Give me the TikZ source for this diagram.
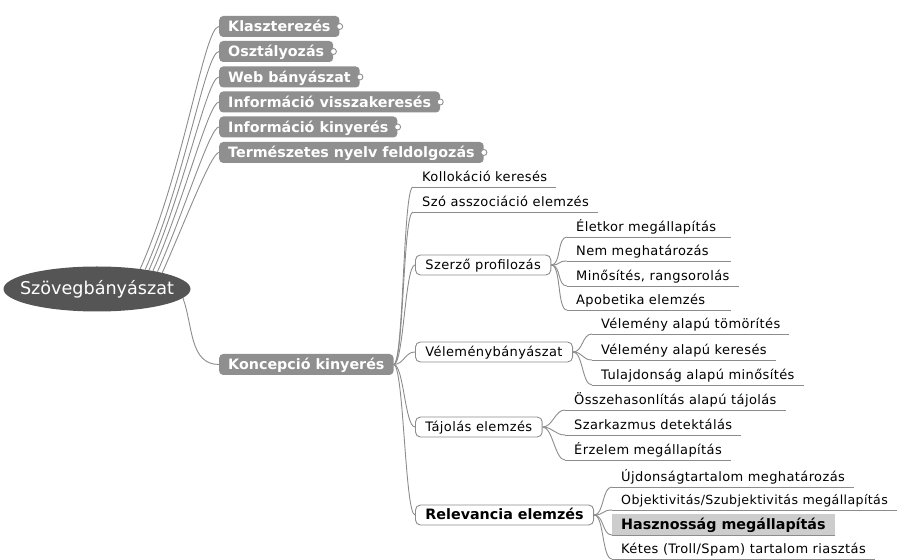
\documentclass[tikz,border=0pt]{standalone}
\usepackage{fontspec}
\setmainfont{DejaVu Sans}
\newfontfamily\leaffont[LetterSpace=3]{DejaVu Sans}
\usetikzlibrary{shapes.geometric}

\definecolor{linegray}{RGB}{140,140,140}
\definecolor{boxgray}{RGB}{143,143,143}
\definecolor{rootgray}{RGB}{85,85,85}
\definecolor{markgray}{RGB}{205,205,205}

\begin{document}
\begin{tikzpicture}[x=1pt,y=1pt,
    conn/.style={draw=linegray, line width=0.9pt},
    root/.style={ellipse, fill=rootgray, text=white, minimum width=187pt, minimum height=45pt, inner sep=0pt,
      font=\fontsize{17.6}{20}\selectfont},
    branch/.style={anchor=west, fill=boxgray, text=white, rounded corners=4pt, inner xsep=9pt, inner ysep=0pt,
      minimum height=21pt, text height=10.5pt, text depth=0pt, font=\fontsize{14.3}{17}\selectfont\bfseries},
    knob/.style={append after command={(\tikzlastnode.east) node[circle, fill=white, draw=boxgray, line width=0.9pt,
      inner sep=0pt, minimum size=6pt] {}}},
    sub/.style={anchor=west, draw=linegray, line width=0.9pt, rounded corners=5pt, inner xsep=10pt, inner ysep=0pt,
      minimum height=20pt, text height=9.5pt, text depth=0pt, font=\leaffont\fontsize{13}{15}\selectfont},
    leaf/.style={anchor=south west, inner xsep=9pt, inner ysep=5pt, text height=9.5pt, text depth=0pt,
      font=\leaffont\fontsize{13}{15}\selectfont,
      append after command={(\tikzlastnode.south west) edge[conn] (\tikzlastnode.south east)}},
    fan/.style={out=66, in=180, out looseness=1.1, in looseness=0.15},
    brace/.style={out=0, in=180, out distance=10pt, in distance=10pt}]

  \useasboundingbox (0,0) rectangle (901,559);

  % root and first level
  \node[root] (root) at (97,270) {\makebox[0pt]{Szövegbányászat}};
  \node[branch, knob] (klaszt) at (219,532.5) {Klaszterezés};
  \node[branch, knob] (oszt)   at (219,507.5) {Osztályozás};
  \node[branch, knob] (web)    at (219,482)   {Web bányászat};
  \node[branch, knob] (vissza) at (219,457)   {Információ visszakeresés};
  \node[branch, knob] (kinyer) at (219,432)   {Információ kinyerés};
  \node[branch, knob] (nyelv)  at (219,406.5) {Természetes nyelv feldolgozás};
  \node[branch] (konc) at (219,194.5) {Koncepció kinyerés};

  % second level
  \node[leaf] (koll)   at (413,372) {Kollokáció keresés};
  \node[leaf] (asszoc) at (413,347) {Szó asszociáció elemzés};
  \node[sub] (szerzo) at (415,294) {Szerző profilozás};
  \node[sub] (vel)    at (415,207) {Véleménybányászat};
  \node[sub] (taj)    at (415,132) {Tájolás elemzés};
  \node[sub, font=\fontsize{14.3}{17}\selectfont\bfseries] (rel) at (415,44) {Relevancia elemzés};

  % third level
  \node[leaf, text width=146pt] (eletkor) at (567,322) {Életkor megállapítás};
  \node[leaf, text width=146pt] (nem)     at (567,298) {Nem meghatározás};
  \node[leaf] (minos)   at (567,273) {Minősítés, rangsorolás};
  \node[leaf, text width=146pt] (apob)    at (567,249) {Apobetika elemzés};

  \node[leaf] (tomor) at (592,225) {Vélemény alapú tömörítés};
  \node[leaf] (keres) at (592,199) {Vélemény alapú keresés};
  \node[leaf] (tulaj) at (592,174) {Tulajdonság alapú minősítés};

  \node[leaf] (ossze) at (565,149) {Összehasonlítás alapú tájolás};
  \node[leaf] (szark) at (565,124) {Szarkazmus detektálás};
  \node[leaf] (erz)   at (565,99)  {Érzelem megállapítás};

  \node[leaf] (ujd)   at (612,72) {Újdonságtartalom meghatározás};
  \node[leaf, font=\leaffont\fontsize{12.6}{15}\selectfont] (obj) at (612,49)
    {Objektivitás/Szubjektivitás megállapítás};
  \node[leaf, fill=markgray, text height=10.4pt, font=\fontsize{14.3}{17}\selectfont\bfseries] (haszn) at (612,24)
    {Hasznosság megállapítás};
  \node[leaf] (ketes) at (612,0) {Kétes (Troll/Spam) tartalom riasztás};

  \begin{scope}[every edge/.style={conn}]
    \path (root.25)   edge[fan] (klaszt.west);
    \path (root.22.5) edge[fan] (oszt.west);
    \path (root.20)   edge[fan] (web.west);
    \path (root.18)   edge[fan] (vissza.west);
    \path (root.16)   edge[fan] (kinyer.west);
    \path (root.14)   edge[fan] (nyelv.west);
    \path (root.-6)   edge[out=-70, in=180] (konc.west);

    \path (konc.east) edge[brace] (koll.south west);
    \path (konc.east) edge[brace] (asszoc.south west);
    \path (konc.east) edge[brace] (szerzo.west);
    \path (konc.east) edge[brace] (vel.west);
    \path (konc.east) edge[brace] (taj.west);
    \path (konc.east) edge[brace] (rel.west);

    \path (szerzo.east) edge[brace] (eletkor.south west);
    \path (szerzo.east) edge[brace] (nem.south west);
    \path (szerzo.east) edge[brace] (minos.south west);
    \path (szerzo.east) edge[brace] (apob.south west);

    \path (vel.east) edge[brace] (tomor.south west);
    \path (vel.east) edge[brace] (keres.south west);
    \path (vel.east) edge[brace] (tulaj.south west);

    \path (taj.east) edge[brace] (ossze.south west);
    \path (taj.east) edge[brace] (szark.south west);
    \path (taj.east) edge[brace] (erz.south west);

    \path (rel.east) edge[brace] (ujd.south west);
    \path (rel.east) edge[brace] (obj.south west);
    \path (rel.east) edge[brace] (haszn.south west);
    \path (rel.east) edge[brace] (ketes.south west);
  \end{scope}

\end{tikzpicture}
\end{document}
